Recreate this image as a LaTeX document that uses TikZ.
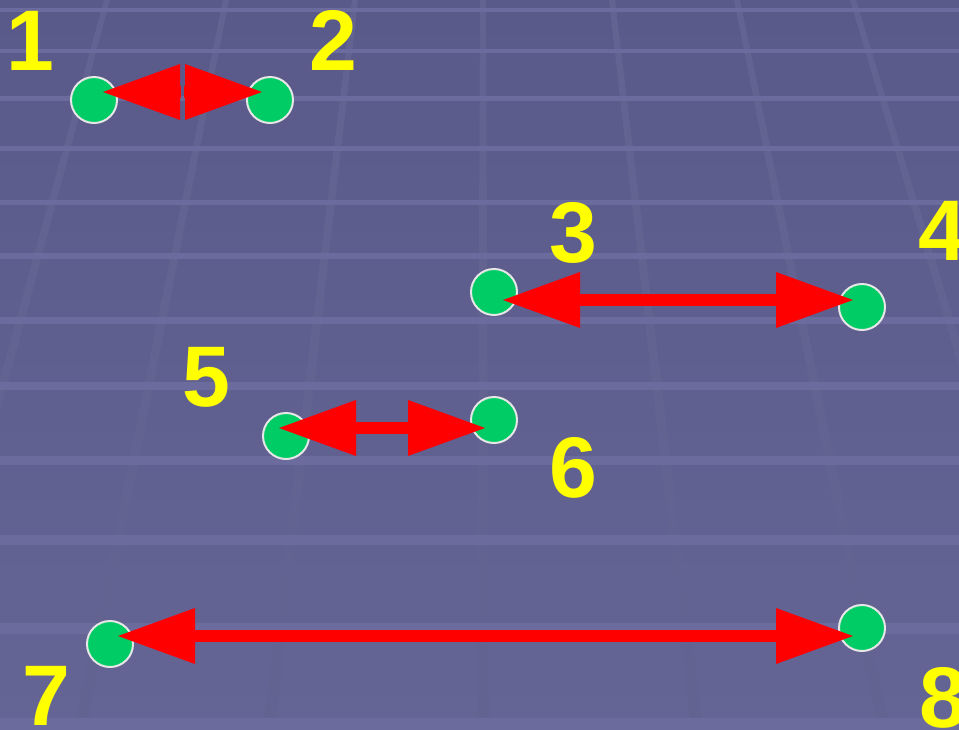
\documentclass[tikz,border=0pt]{standalone}
\usepackage{fontspec}
\setmainfont{Liberation Sans}
\usetikzlibrary{arrows.meta}
\definecolor{bgtop}{RGB}{90,90,138}
\definecolor{bgbot}{RGB}{100,101,148}
\definecolor{hlinecol}{RGB}{107,107,157}
\definecolor{vlinecol}{RGB}{99,99,145}
\definecolor{dotgreen}{RGB}{0,204,102}
\definecolor{dotrim}{RGB}{230,230,230}
\definecolor{lblyellow}{RGB}{255,255,0}
\definecolor{arrowred}{RGB}{255,0,0}
\tikzset{
  gdot/.style={circle, fill=dotgreen, draw=dotrim, line width=2pt, minimum size=46pt, inner sep=0pt},
  lbl/.style={text=lblyellow, font=\bfseries\fontsize{86}{86}\selectfont, inner sep=0pt, anchor=base},
  dbl/.style={color=arrowred, line width=12pt,
    {Triangle[length=77pt,width=56pt,line width=0pt]}-{Triangle[length=77pt,width=56pt,line width=0pt]}},
  sgl/.style={color=arrowred, line width=12pt,
    -{Triangle[length=77pt,width=56pt,line width=0pt]}},
  gridh/.style={draw=hlinecol},
  gridv/.style={fill=vlinecol}
}
\begin{document}
\begin{tikzpicture}[x=1pt,y=-1pt]
\useasboundingbox (0,0) rectangle (959,729);
\clip (0,0) rectangle (959,729);
\shade[top color=bgtop,bottom color=bgbot] (0,0) rectangle (959,729);
% perspective grid
\foreach \a/\b in {107/-90,226/80,355/269,483/483,612/697,737/884,853/1072}
  \fill[gridv] (\a-3,0) -- (\a+3,0) -- (\b+6,729) -- (\b-6,729) -- cycle;
\foreach \y/\w in {10/4,51/4,98/5,148/5,202/5,256/6,320/7,386/8,460/9,540/10,628/11,724/12}
  \draw[gridh, line width=\w pt] (0,\y) -- (959,\y);
% dots
\node[gdot] (c1) at (94,100) {};
\node[gdot] (c2) at (270,100) {};
\node[gdot] (c3) at (494,292) {};
\node[gdot] (c4) at (862,307) {};
\node[gdot] (c5) at (286,436) {};
\node[gdot] (c6) at (494,420) {};
\node[gdot] (c7) at (110,644) {};
\node[gdot] (c8) at (862,628) {};
% arrow ends
\coordinate (a1) at (103,92);
\coordinate (a2) at (262,92);
\coordinate (m1) at (181,92);
\coordinate (m2) at (184,92);
\coordinate (a3) at (503,300);
\coordinate (a4) at (853,300);
\coordinate (a5) at (279,428);
\coordinate (a6) at (485,428);
\coordinate (a7) at (118,636);
\coordinate (a8) at (853,636);
\draw[sgl] (m1) -- (a1);
\draw[sgl] (m2) -- (a2);
\draw[dbl] (a3) -- (a4);
\draw[dbl] (a5) -- (a6);
\draw[dbl] (a7) -- (a8);
% labels
\node[lbl] (l1) at (30,70) {1};
\node[lbl] (l2) at (333,70) {2};
\node[lbl] (l3) at (573.5,262) {3};
\node[lbl] (l4) at (942,260) {4};
\node[lbl] (l5) at (206,406) {5};
\node[lbl] (l6) at (573.5,497) {6};
\node[lbl] (l7) at (46,725) {7};
\node[lbl] (l8) at (943,727) {8};
\end{tikzpicture}
\end{document}
